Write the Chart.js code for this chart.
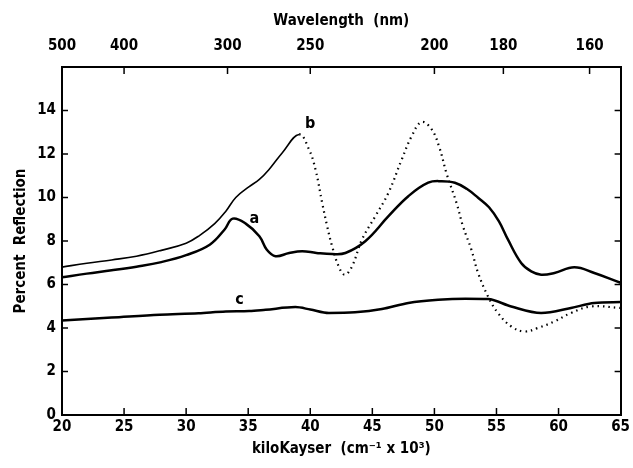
<!DOCTYPE html>
<html>
<head>
<meta charset="utf-8">
<script src="https://cdn.jsdelivr.net/npm/chart.js@4"></script>
<style>
  html, body { margin: 0; padding: 0; background: #fff; }
  canvas { display: block; }
</style>
</head>
<body>
<canvas id="reflChart" width="633" height="468"></canvas>
<script>
// curve a (solid)
const aX = [20, 22, 24, 26, 28, 30, 31.9, 33.1, 33.75, 34.8, 35.9, 36.5, 37.2, 38.3, 39.35, 40.5, 41.76, 42.83, 44.43, 46.3, 47.9, 49.5, 50.6, 51.65, 52.6, 53.52, 54.4, 55.2, 55.93, 56.99, 57.8, 58.6, 59.67, 61.27, 62.88, 65];
const aY = [6.33, 6.5, 6.65, 6.82, 7.03, 7.35, 7.83, 8.53, 9.03, 8.8, 8.22, 7.6, 7.3, 7.45, 7.53, 7.45, 7.4, 7.45, 7.99, 9.14, 10.06, 10.68, 10.75, 10.68, 10.4, 9.99, 9.55, 8.9, 8.06, 6.99, 6.6, 6.45, 6.53, 6.79, 6.53, 6.08];

// curve b (solid up to the first peak, dotted after)
const bX = [20, 22, 24, 26, 28, 30, 31.07, 32.3, 33.2, 34, 35.08, 35.9, 36.68, 37.75, 39.1, 39.9, 40.42, 40.96, 41.36, 41.76, 42.29, 42.77, 43.36, 44.16, 45.24, 46.3, 47.37, 48.17, 48.97, 49.78, 50.4, 50.98, 51.78, 52.3, 52.98, 53.52, 54.32, 55.12, 56.19, 57.26, 58.33, 59.67, 61, 62.6, 65];
const bY = [6.8, 6.98, 7.13, 7.3, 7.57, 7.9, 8.25, 8.8, 9.37, 10.0, 10.5, 10.83, 11.29, 12.06, 12.9, 12.21, 11.29, 9.75, 8.68, 7.76, 6.83, 6.45, 6.83, 8.06, 9.14, 10.22, 11.75, 12.82, 13.47, 13.13, 12.3, 11.1, 9.75, 8.68, 7.6, 6.53, 5.45, 4.69, 4.07, 3.84, 4.0, 4.3, 4.69, 4.99, 4.92];

// curve c (solid)
const cX = [20, 24, 27.86, 31, 33.2, 35.08, 36.4, 38.8, 40, 41.5, 43.6, 45.77, 47.9, 50.3, 52.5, 54.32, 56.19, 58.6, 61, 62.88, 65];
const cY = [4.35, 4.48, 4.61, 4.68, 4.76, 4.78, 4.84, 4.96, 4.85, 4.69, 4.72, 4.87, 5.15, 5.3, 5.35, 5.33, 4.99, 4.69, 4.92, 5.15, 5.19];

// curve labels
const labelText = ['a', 'b', 'c'];
const labelX = [35.5, 40.0, 34.3];
const labelY = [9.0, 13.4, 5.3];

// top axis: wavelength in nm
const wavelengths = [500, 400, 300, 250, 200, 180, 160];

const bSolidUntil = 39.1;

const toPoints = (xs, ys) => xs.map((x, i) => ({ x: x, y: ys[i] }));

const fontFamily = "'DejaVu Sans Condensed', 'DejaVu Sans', sans-serif";
const tickFont = { family: fontFamily, size: 15, weight: 'bold' };

// 안쪽으로 향하는 눈금 그리기
const inwardTicks = {
    id: 'inwardTicks',
    afterDatasetsDraw(chart) {
        const { ctx, chartArea: a, scales } = chart;
        ctx.save();
        ctx.strokeStyle = '#000';
        ctx.lineWidth = 1.5;
        scales.x.ticks.forEach(t => {
            const px = scales.x.getPixelForValue(t.value);
            if (px < a.left + 2 || px > a.right - 2) return;
            ctx.beginPath(); ctx.moveTo(px, a.bottom); ctx.lineTo(px, a.bottom - 7); ctx.stroke();
        });
        scales.x2.ticks.forEach(t => {
            const px = scales.x2.getPixelForValue(t.value);
            if (px < a.left + 2 || px > a.right - 2) return;
            ctx.beginPath(); ctx.moveTo(px, a.top); ctx.lineTo(px, a.top + 7); ctx.stroke();
        });
        scales.y.ticks.forEach(t => {
            const py = scales.y.getPixelForValue(t.value);
            if (py < a.top + 2 || py > a.bottom - 2) return;
            ctx.beginPath(); ctx.moveTo(a.left, py); ctx.lineTo(a.left + 6, py); ctx.stroke();
            ctx.beginPath(); ctx.moveTo(a.right, py); ctx.lineTo(a.right - 6, py); ctx.stroke();
        });
        ctx.restore();
    }
};

// 곡선 이름 (a, b, c)
const curveLabels = {
    id: 'curveLabels',
    afterDatasetsDraw(chart) {
        const { ctx, scales } = chart;
        ctx.save();
        ctx.fillStyle = '#000';
        ctx.font = "bold 16px " + fontFamily;
        ctx.textAlign = 'center';
        ctx.textBaseline = 'middle';
        labelText.forEach((s, i) => {
            ctx.fillText(s, scales.x.getPixelForValue(labelX[i]), scales.y.getPixelForValue(labelY[i]));
        });
        ctx.restore();
    }
};

const ctx = document.getElementById('reflChart').getContext('2d');

new Chart(ctx, {
    type: 'line',
    data: {
        datasets: [
            {
                label: 'a',
                data: toPoints(aX, aY),
                borderColor: '#000',
                borderWidth: 2.5,
                pointRadius: 0,
                tension: 0.4
            },
            {
                label: 'b',
                data: toPoints(bX, bY),
                borderColor: '#000',
                borderWidth: 1.6,
                pointRadius: 0,
                tension: 0.4,
                segment: {
                    borderDash: c => c.p0.parsed.x >= bSolidUntil ? [1.5, 4] : undefined,
                    borderWidth: c => c.p0.parsed.x >= bSolidUntil ? 2.2 : undefined
                }
            },
            {
                label: 'c',
                data: toPoints(cX, cY),
                borderColor: '#000',
                borderWidth: 2.5,
                pointRadius: 0,
                tension: 0.4,
                cubicInterpolationMode: 'monotone'
            }
        ]
    },
    options: {
        responsive: false,
        animation: false,
        events: [],
        plugins: {
            legend: { display: false },
            tooltip: { enabled: false }
        },
        scales: {
            x: {
                type: 'linear',
                position: 'bottom',
                min: 20,
                max: 65,
                grid: { display: false, drawTicks: false },
                border: { display: true, color: '#000', width: 2 },
                ticks: { stepSize: 5, color: '#000', font: tickFont, padding: 3, maxRotation: 0 },
                title: {
                    display: true,
                    text: 'kiloKayser  (cm⁻¹ x 10³)',
                    color: '#000',
                    font: tickFont,
                    padding: { top: 0, bottom: 10 }
                },
                afterFit: s => { s.height = 53; }
            },
            x2: {
                type: 'linear',
                axis: 'x',
                position: 'top',
                min: 20,
                max: 65,
                grid: { display: false, drawTicks: false },
                border: { display: true, color: '#000', width: 2 },
                afterBuildTicks: s => { s.ticks = wavelengths.map(w => ({ value: 1e4 / w })); },
                ticks: {
                    color: '#000',
                    font: tickFont,
                    padding: 12,
                    maxRotation: 0,
                    autoSkip: false,
                    callback: v => String(Math.round(1e4 / v))
                },
                title: {
                    display: true,
                    text: 'Wavelength  (nm)',
                    color: '#000',
                    font: tickFont,
                    padding: { top: 12, bottom: 4 }
                },
                afterFit: s => { s.height = 67; }
            },
            y: {
                min: 0,
                max: 16,
                grid: { display: false, drawTicks: false },
                border: { display: true, color: '#000', width: 2 },
                ticks: {
                    stepSize: 2,
                    color: '#000',
                    font: tickFont,
                    padding: 6,
                    callback: v => v === 16 ? '' : String(v)
                },
                title: {
                    display: true,
                    text: 'Percent  Reflection',
                    color: '#000',
                    font: tickFont,
                    padding: { top: 12, bottom: 6 }
                },
                afterFit: s => { s.width = 62; }
            },
            y2: {
                axis: 'y',
                position: 'right',
                min: 0,
                max: 16,
                grid: { display: false, drawTicks: false },
                border: { display: true, color: '#000', width: 2 },
                ticks: { display: false },
                afterFit: s => { s.width = 10; }
            }
        }
    },
    plugins: [inwardTicks, curveLabels]
});
</script>
</body>
</html>
